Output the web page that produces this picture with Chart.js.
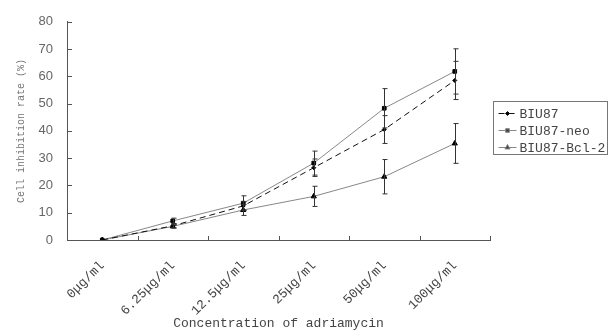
<!DOCTYPE html>
<html>
<head>
<meta charset="utf-8">
<script src="https://cdn.jsdelivr.net/npm/chart.js@4.4.1/dist/chart.umd.min.js"></script>
<style>
  html, body { margin: 0; padding: 0; background: #fff; }
  #wrap { width: 608px; height: 331px; }
</style>
</head>
<body>
<div id="wrap"><canvas id="line-chart"></canvas></div>
<script>
const labels_conc = ["0μg/ml", "6.25μg/ml", "12.5μg/ml", "25μg/ml", "50μg/ml", "100μg/ml"];
const biu87 = [0, 5.2, 12.5, 26.5, 40.5, 58.5];
const biu87_err = [0, 0.8, 1.5, 3.2, 5.1, 7];
const neo = [0, 7, 13.5, 28.2, 48.3, 61.8];
const neo_err = [0, 1, 2.7, 4.4, 7.2, 8.3];
const bcl2 = [0, 5, 11, 16, 23.2, 35.4];
const bcl2_err = [0, 0.6, 2, 3.7, 6.3, 7.3];
const y_ticks = [0, 10, 20, 30, 40, 50, 60, 70, 80];

const MONO = "'Liberation Mono', 'DejaVu Sans Mono', monospace";
const AXIS = "#555";

// error bars, inside tick marks and the boxed legend
const extras = {
  id: "extras",
  afterDatasetsDraw(chart) {
    const ctx = chart.ctx;
    const xs = chart.scales.x, ys = chart.scales.y;
    const area = chart.chartArea;
    ctx.save();
    ctx.strokeStyle = "#333";
    ctx.lineWidth = 1;
    chart.data.datasets.forEach((ds) => {
      ds.data.forEach((v, i) => {
        const e = ds.err[i];
        if (!e) return;
        const x = Math.round(xs.getPixelForValue(i)) + 0.5;
        const y1 = ys.getPixelForValue(v + e);
        const y2 = ys.getPixelForValue(v - e);
        ctx.beginPath();
        ctx.moveTo(x, y1); ctx.lineTo(x, y2);
        ctx.moveTo(x - 2, y1); ctx.lineTo(x + 3, y1);
        ctx.moveTo(x - 2, y2); ctx.lineTo(x + 3, y2);
        ctx.stroke();
      });
    });
    // tick marks pointing inward
    ctx.strokeStyle = AXIS;
    const n = chart.data.labels.length;
    for (let i = 1; i <= n; i++) {
      const x = Math.round(area.left + (area.right - area.left) * i / n) + 0.5;
      ctx.beginPath();
      ctx.moveTo(x, area.bottom); ctx.lineTo(x, area.bottom - 4);
      ctx.stroke();
    }
    y_ticks.forEach((t) => {
      const y = Math.round(ys.getPixelForValue(t)) + 0.5;
      ctx.beginPath();
      ctx.moveTo(area.left, y); ctx.lineTo(area.left + 5, y);
      ctx.stroke();
    });
    // legend
    const lx = 493.5, ly = 101.5, lw = 114, lh = 53;
    ctx.strokeStyle = "#777";
    ctx.strokeRect(lx, ly, lw, lh);
    ctx.font = "13px " + MONO;
    ctx.textBaseline = "middle";
    chart.data.datasets.forEach((ds, i) => {
      const y = ly + 12 + i * 17;
      ctx.strokeStyle = ds.borderColor;
      ctx.lineWidth = 1;
      ctx.setLineDash(ds.borderDash || []);
      ctx.beginPath();
      ctx.moveTo(lx + 5, y); ctx.lineTo(lx + 23, y);
      ctx.stroke();
      ctx.setLineDash([]);
      Chart.helpers.drawPoint(ctx, {
        pointStyle: ds.pointStyle, radius: ds.pointRadius, borderWidth: 1
      }, lx + 14, y);
      ctx.fillStyle = "#444";
      ctx.fillText(ds.label, lx + 26, y + 1);
    });
    ctx.restore();
  }
};

function series(label, data, err, style, radius, color, dash) {
  return {
    label: label,
    data: data,
    err: err,
    borderColor: color,
    borderWidth: 1,
    borderDash: dash,
    pointStyle: style,
    pointRadius: radius,
    pointBackgroundColor: "#000",
    pointBorderColor: "#000",
    pointBorderWidth: 1,
    tension: 0,
    fill: false,
  };
}

const config_line = {
  type: "line",
  data: {
    labels: labels_conc,
    datasets: [
      series("BIU87", biu87, biu87_err, "rectRot", 2, "#111", [6, 4]),
      series("BIU87-neo", neo, neo_err, "rect", 2.6, "#888", []),
      series("BIU87-Bcl-2", bcl2, bcl2_err, "triangle", 3, "#888", []),
    ],
  },
  plugins: [extras],
  options: {
    responsive: true,
    maintainAspectRatio: false,
    animation: false,
    layout: { padding: { top: 10, right: 118, bottom: 0, left: 0 } },
    plugins: {
      legend: { display: false },
      tooltip: { enabled: false },
    },
    scales: {
      x: {
        offset: true,
        grid: { display: false, drawTicks: false },
        border: { display: true, color: AXIS, width: 1 },
        ticks: {
          maxRotation: 45, minRotation: 45, padding: 18,
          color: "#444", font: { family: MONO, size: 13 },
        },
        title: {
          display: true, text: "Concentration of adriamycin",
          color: "#444", font: { family: MONO, size: 13 },
          padding: { top: 0, bottom: 0 },
        },
        afterFit: (s) => { s.height = 91; },
      },
      y: {
        min: 0, max: 80,
        grid: { display: false, drawTicks: false },
        border: { display: true, color: AXIS, width: 1 },
        ticks: {
          stepSize: 10, padding: 14, color: "#666",
          font: { family: "'Liberation Sans', Arial, sans-serif", size: 13 },
        },
        title: {
          display: true, text: "Cell inhibition rate (%)",
          color: "#777", font: { family: MONO, size: 10 },
          padding: { top: 15, bottom: 0 },
        },
        afterFit: (s) => { s.width = 67; },
      },
    },
  },
};

var ctx_line = document.getElementById("line-chart").getContext("2d");
var myChart_line = new Chart(ctx_line, config_line);
</script>
</body>
</html>
